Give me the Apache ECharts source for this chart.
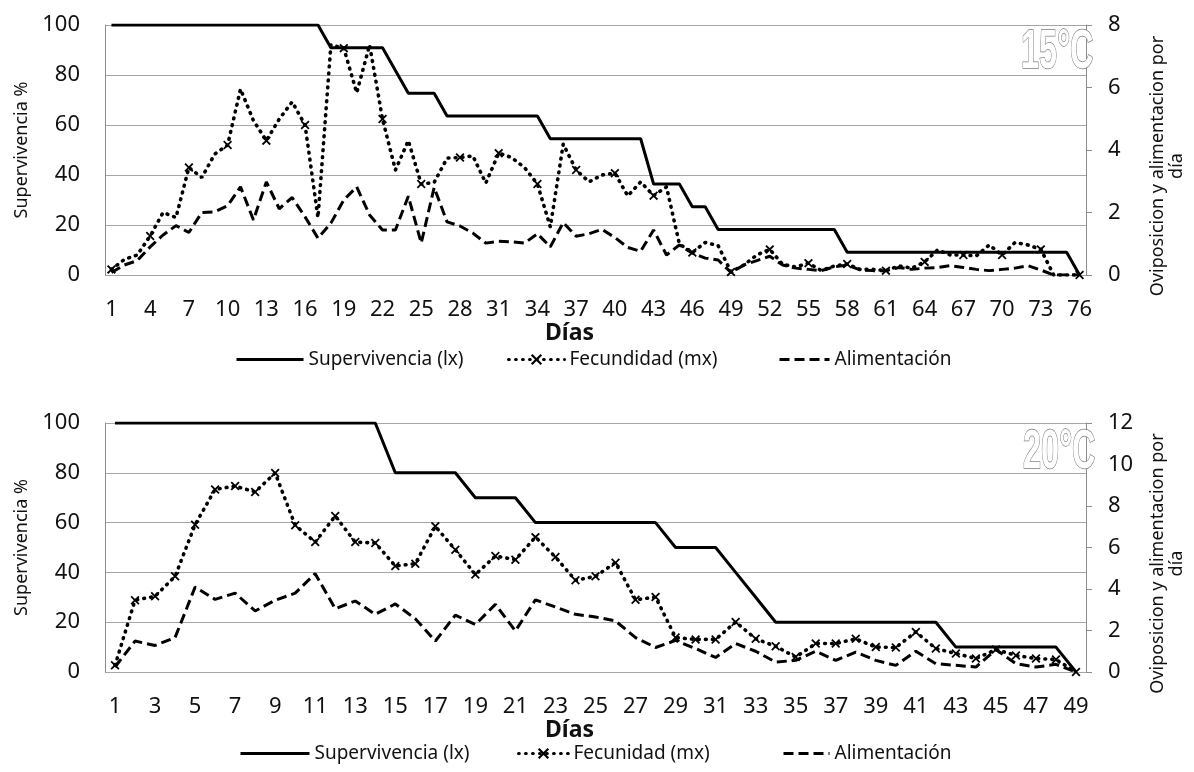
<!DOCTYPE html>
<html>
<head>
<meta charset="utf-8">
<script src="https://cdn.jsdelivr.net/npm/echarts@6/dist/echarts.min.js"></script>
<style>
  html, body { margin: 0; padding: 0; background: #fff; }
  #c { width: 1194px; height: 772px; }
</style>
</head>
<body>
<div id="c"></div>
<script>
// Days of life-table observation at each temperature
const days15 = ['1','2','3','4','5','6','7','8','9','10','11','12','13','14','15','16','17','18','19','20',
  '21','22','23','24','25','26','27','28','29','30','31','32','33','34','35','36','37','38','39','40',
  '41','42','43','44','45','46','47','48','49','50','51','52','53','54','55','56','57','58','59','60',
  '61','62','63','64','65','66','67','68','69','70','71','72','73','74','75','76'];
const days20 = ['1','2','3','4','5','6','7','8','9','10','11','12','13','14','15','16','17','18','19','20',
  '21','22','23','24','25','26','27','28','29','30','31','32','33','34','35','36','37','38','39','40',
  '41','42','43','44','45','46','47','48','49'];

// 15 °C: survival (%), eggs per female per day, feeding per day
const surv15 = [100,100,100,100,100,100,100,100,100,100,100,100,100,100,100,100,100,
  90.9,90.9,90.9,90.9,90.9,81.8,72.7,72.7,72.7,
  63.6,63.6,63.6,63.6,63.6,63.6,63.6,63.6,
  54.5,54.5,54.5,54.5,54.5,54.5,54.5,54.5,
  36.4,36.4,36.4,27.3,27.3,
  18.2,18.2,18.2,18.2,18.2,18.2,18.2,18.2,18.2,18.2,
  9.1,9.1,9.1,9.1,9.1,9.1,9.1,9.1,9.1,9.1,9.1,9.1,9.1,9.1,9.1,9.1,9.1,9.1,0];
const fec15 = [0.18,0.5,0.64,1.25,2.0,1.84,3.44,3.12,3.87,4.16,
  5.95,4.94,4.3,4.99,5.54,4.8,1.84,7.36,7.26,5.83,
  7.36,4.99,3.36,4.3,2.91,2.96,3.74,3.76,3.81,2.94,
  3.9,3.76,3.44,2.91,1.54,4.19,3.36,2.98,3.2,3.26,
  2.53,2.98,2.54,2.82,0.99,0.72,1.04,0.94,0.1,0.32,
  0.64,0.82,0.34,0.26,0.38,0.14,0.29,0.35,0.18,0.18,
  0.14,0.29,0.22,0.42,0.8,0.64,0.64,0.61,0.96,0.64,
  1.04,0.96,0.82,0,0,0];
const ali15 = [0.08,0.32,0.46,0.9,1.28,1.58,1.36,2.0,2.02,2.22,
  2.82,1.76,2.98,2.12,2.48,1.86,1.18,1.66,2.4,2.82,
  1.92,1.44,1.44,2.52,1.02,2.8,1.7,1.57,1.34,1.02,
  1.08,1.06,1.02,1.32,0.9,1.68,1.24,1.32,1.46,1.2,
  0.88,0.76,1.44,0.64,0.96,0.7,0.54,0.48,0.08,0.32,
  0.46,0.6,0.32,0.22,0.18,0.14,0.26,0.32,0.16,0.14,
  0.14,0.24,0.18,0.22,0.24,0.3,0.24,0.18,0.14,0.18,
  0.22,0.3,0.16,0,0,0];

// 20 °C: survival (%), eggs per female per day, feeding per day
const surv20 = [100,100,100,100,100,100,100,100,100,100,100,100,100,100,
  80,80,80,80,70,70,70,60,60,60,60,60,60,60,50,50,50,40,30,
  20,20,20,20,20,20,20,20,20,10,10,10,10,10,10,0];
const fec20 = [0.32,3.46,3.65,4.61,7.1,8.8,8.96,8.68,9.59,7.07,
  6.26,7.52,6.26,6.22,5.11,5.22,7.02,5.89,4.7,5.59,
  5.41,6.5,5.54,4.42,4.61,5.27,3.48,3.61,1.66,1.57,
  1.57,2.41,1.6,1.24,0.72,1.37,1.37,1.6,1.2,1.18,
  1.93,1.13,0.89,0.65,1.08,0.8,0.65,0.6,0];
const ali20 = [0.24,1.49,1.28,1.66,4.09,3.5,3.8,2.94,3.46,3.8,
  4.74,3.05,3.42,2.78,3.28,2.57,1.49,2.74,2.29,3.26,
  1.98,3.48,3.13,2.78,2.65,2.46,1.66,1.18,1.52,1.13,
  0.7,1.37,1.0,0.48,0.56,1.0,0.56,0.96,0.56,0.32,
  1.0,0.4,0.32,0.24,1.08,0.4,0.24,0.37,0];

// Axis ranges
const leftMax = 100, leftStep = 20;
const right15Max = 8, right20Max = 12, rightStep = 2;

const FONT = '"Noto Sans", "Open Sans", sans-serif';
const BADGE_FONT = '"Liberation Sans", Arial, sans-serif';
const INK = '#111';
const GRID = '#a6a6a6';
const CROSS = 'path://M0,1.4L1.4,0L5,3.6L8.6,0L10,1.4L6.4,5L10,8.6L8.6,10L5,6.4L1.4,10L0,8.6L3.6,5Z';
const HIDDEN = 'rgba(0,0,0,0)';

const chart = echarts.init(document.getElementById('c'), null, { renderer: 'canvas' });

function xAxisFor(grid, data, interval) {
  return {
    gridIndex: grid, type: 'category', data: data, boundaryGap: true,
    axisLine: { show: false }, axisTick: { show: false },
    axisLabel: { interval: interval, margin: 24, fontSize: 22, color: INK, fontFamily: FONT },
    name: 'Días', nameLocation: 'middle', nameGap: 44,
    nameTextStyle: { fontWeight: 'bold', fontSize: 23, color: INK, fontFamily: FONT,
      padding: [0, 52, 0, 0] }
  };
}
function leftAxisFor(grid) {
  return {
    gridIndex: grid, type: 'value', position: 'left', min: 0, max: leftMax, interval: leftStep,
    axisLine: { show: true, lineStyle: { color: '#8c8c8c', width: 1 } },
    axisTick: { show: false },
    splitLine: { show: true, lineStyle: { color: GRID, width: 1.2 } },
    axisLabel: { margin: 25, fontSize: 22, color: INK, fontFamily: FONT },
    name: 'Supervivencia %', nameLocation: 'middle', nameRotate: 90, nameGap: 72,
    nameTextStyle: { fontSize: 18, color: INK, fontFamily: FONT }
  };
}
function rightAxisFor(grid, max) {
  return {
    gridIndex: grid, type: 'value', position: 'right', min: 0, max: max, interval: rightStep,
    axisLine: { show: true, lineStyle: { color: '#8c8c8c', width: 1 } },
    axisTick: { show: true, inside: false, length: 6, lineStyle: { color: '#8c8c8c' } },
    splitLine: { show: false },
    axisLabel: { margin: 22, fontSize: 22, color: INK, fontFamily: FONT },
    name: 'Oviposicion y alimentacion por\ndía', nameLocation: 'middle', nameRotate: 90, nameGap: 62,
    nameTextStyle: { fontSize: 18, color: INK, fontFamily: FONT, align: 'center', lineHeight: 19,
      padding: [0, 32, 0, 0] }
  };
}

const solid = { color: '#000', width: 3 };
const dotted = { color: '#000', width: 3.6, type: [0.8, 6.2], cap: 'round' };
const dashed = { color: '#000', width: 3, type: [10, 5], cap: 'butt' };

function seriesFor(grid, names, surv, fec, ali) {
  return [
    { name: names[0], type: 'line', xAxisIndex: grid, yAxisIndex: grid * 2, data: surv,
      symbol: 'none', itemStyle: { color: HIDDEN }, lineStyle: solid, z: 4 },
    { name: names[1], type: 'line', xAxisIndex: grid, yAxisIndex: grid * 2 + 1, data: fec,
      symbol: CROSS, symbolSize: 9, showSymbol: true, itemStyle: { color: '#000' }, lineStyle: dotted, z: 3 },
    { name: names[2], type: 'line', xAxisIndex: grid, yAxisIndex: grid * 2 + 1, data: ali,
      symbol: 'none', itemStyle: { color: HIDDEN }, lineStyle: dashed, z: 2 }
  ];
}

const names15 = ['Supervivencia (lx)', 'Fecundidad (mx)', 'Alimentación'];
const names20 = ['Supervivencia (lx)', 'Fecunidad (mx)', 'Alimentación'];

function legendItem(name, left, top, width) {
  return {
    data: [name], left: left, top: top, itemWidth: width, itemHeight: 14, padding: 0,
    selectedMode: false,
    lineStyle: { width: 3 },
    textStyle: { fontSize: 19, color: INK, fontFamily: FONT }
  };
}

function badge(text, x, y) {
  return { type: 'text', x: x, y: y, scaleX: 0.58, z: 10,
    style: { text: text, font: 'bold 56px ' + BADGE_FONT, fill: '#fff', stroke: '#7a7a7a', lineWidth: 1.5,
      align: 'left', verticalAlign: 'top' } };
}

const option = {
  animation: false,
  backgroundColor: '#fff',
  textStyle: { fontFamily: FONT },
  grid: [
    { left: 105, top: 25, width: 995, height: 250 },
    { left: 105, top: 423, width: 995, height: 249 }
  ],
  xAxis: [xAxisFor(0, days15, 2), xAxisFor(1, days20, 1)],
  yAxis: [leftAxisFor(0), rightAxisFor(0, right15Max), leftAxisFor(1), rightAxisFor(1, right20Max)],
  legend: [
    legendItem(names15[0], 235, 350, 67),
    legendItem(names15[1], 507, 350, 56),
    legendItem(names15[2], 778, 350, 50),
    legendItem(names20[0], 239, 744, 69),
    legendItem(names20[1], 517, 744, 50),
    legendItem(names20[2], 782, 744, 46)
  ],
  series: seriesFor(0, names15, surv15, fec15, ali15).concat(seriesFor(1, names20, surv20, fec20, ali20)),
  graphic: [badge('15°C', 1021, 25), badge('20°C', 1023, 425)]
};

chart.setOption(option);
</script>
</body>
</html>
